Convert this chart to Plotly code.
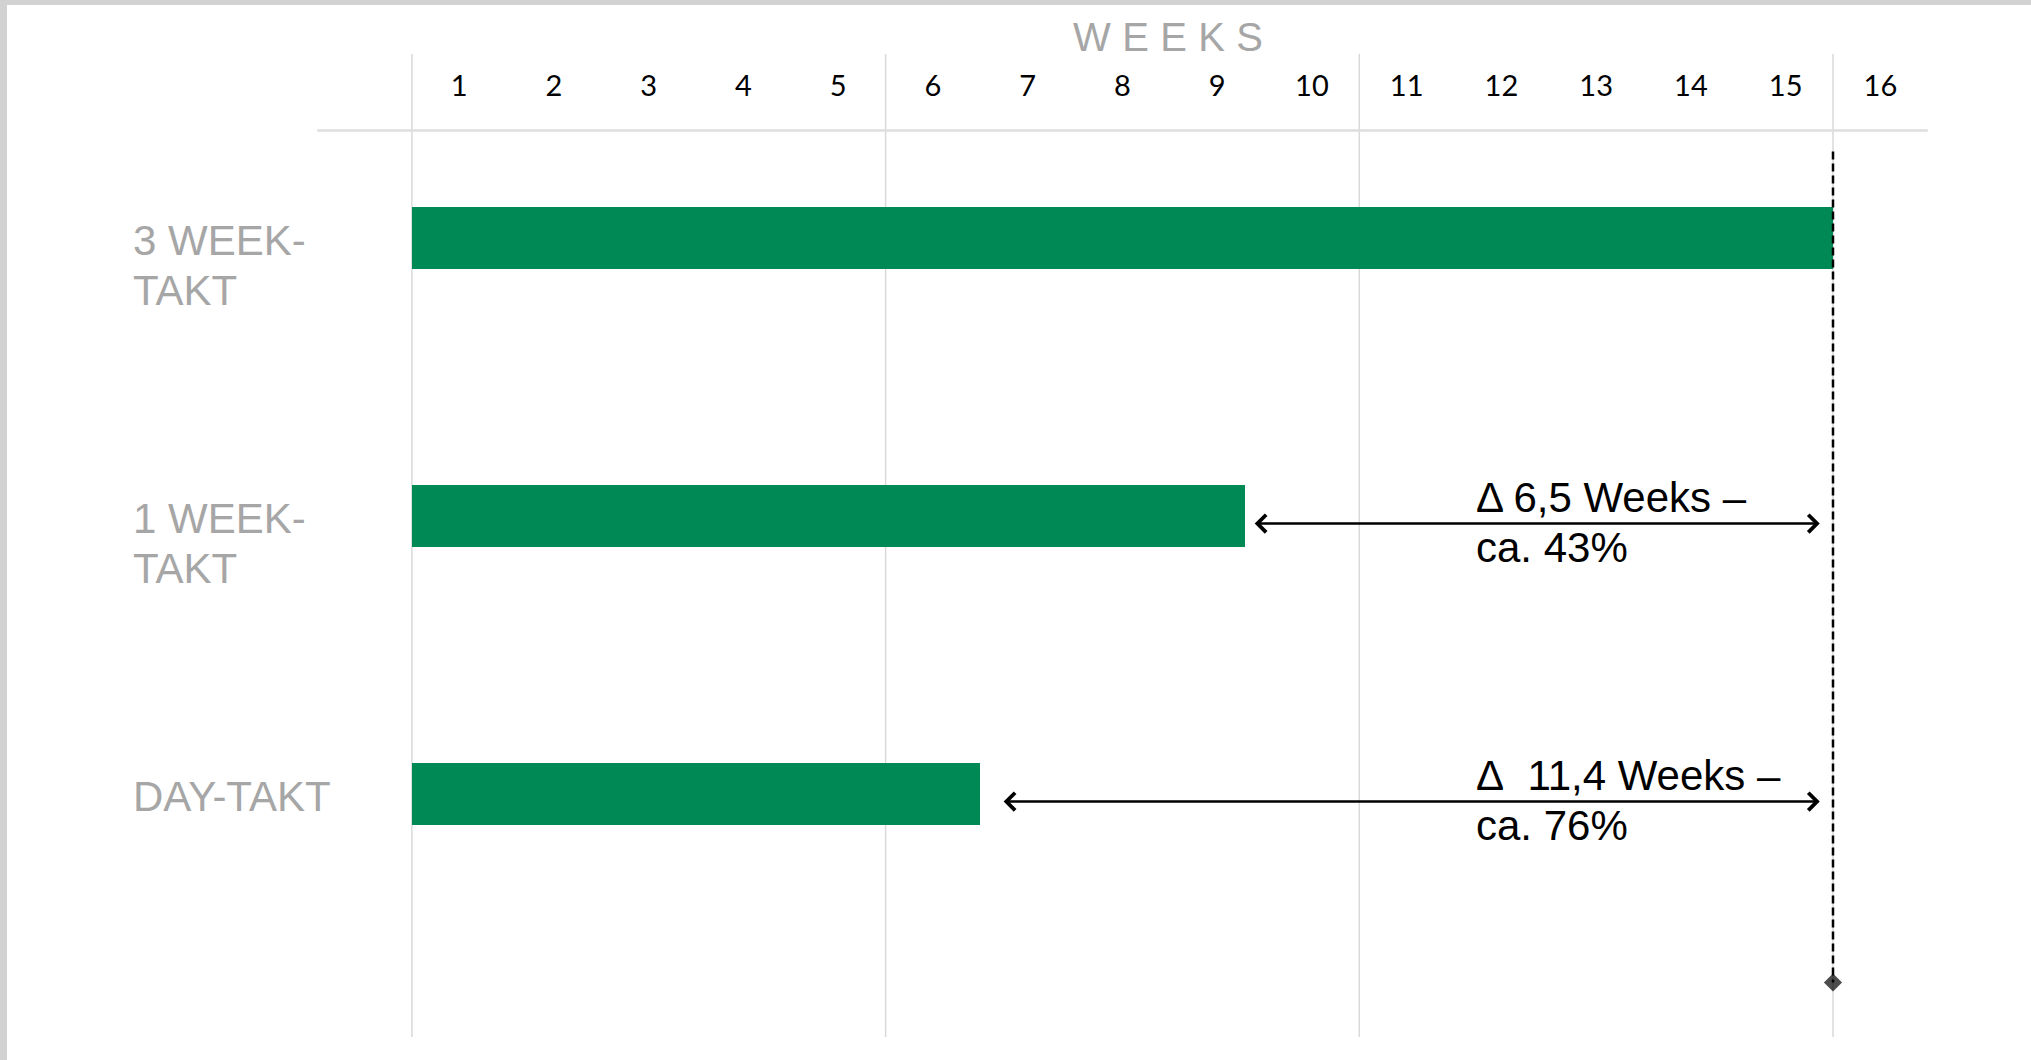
import plotly.graph_objects as go

# ---------------- data ----------------
categories = ["3 WEEK-TAKT", "1 WEEK-TAKT", "DAY-TAKT"]
category_label_lines = [["3 WEEK-", "TAKT"], ["1 WEEK-", "TAKT"], ["DAY-TAKT"]]
durations_weeks = [15.0, 8.79, 6.0]
milestone_week = 15
week_tick_labels = ["1", "2", "3", "4", "5", "6", "7", "8", "9", "10",
                    "11", "12", "13", "14", "15", "16"]
grid_weeks = [0, 5, 10, 15]
delta_texts = [None,
               ["Δ 6,5 Weeks –", "ca. 43%"],
               ["Δ\u00a0 11,4 Weeks –", "ca. 76%"]]
axis_title = "WEEKS"

# ---------------- geometry / style ----------------
W, H = 2031, 1060
X0_PX, WEEK_PX = 411.9, 94.74          # pixel of week 0, pixels per week
ROW0_PX, ROW_PX = 237.5, 278.0         # pixel of first row centre, pixels per row
GREEN = "#008954"
LABEL_GREY = "#A6A6A6"
GRID_GREY = "#D9D9D9"
SANS = "Liberation Sans, Arial, sans-serif"
TICK_FONT = "Lato, Carlito, Calibri, sans-serif"
ARROW_START_GAP = [0.0, 0.09, 0.23]    # gap between bar end and arrow start (weeks)
ARROW_END_GAP = 0.14


def k_of_px(py):
    return (py - ROW0_PX) / ROW_PX


def paper_y(py):
    return 1 - py / H


x_range = [-X0_PX / WEEK_PX, (W - X0_PX) / WEEK_PX]
y_range = [(H - ROW0_PX) / ROW_PX, -ROW0_PX / ROW_PX]
rows = list(range(len(categories)))

fig = go.Figure()

# bars
fig.add_trace(go.Bar(
    y=rows, x=durations_weeks, base=0, orientation="h",
    width=62 / ROW_PX, marker=dict(color=GREEN, line=dict(width=0)),
    hovertext=categories, showlegend=False,
))

# milestone dashed line with diamond
fig.add_trace(go.Scatter(
    x=[milestone_week, milestone_week],
    y=[k_of_px(151.6), k_of_px(982.5)],
    mode="lines+markers",
    line=dict(color="black", width=2.5, dash="8px,4px"),
    marker=dict(symbol="diamond", size=[0, 14], color="black",
                line=dict(width=0)),
    showlegend=False, hoverinfo="skip",
))

shapes = []
# grey textured frame (top & left)
shapes.append(dict(type="rect", xref="paper", yref="paper", x0=0, x1=7 / W, y0=0, y1=1,
                   fillcolor="#D2D2D2", line=dict(width=0), layer="below"))
shapes.append(dict(type="rect", xref="paper", yref="paper", x0=0, x1=1, y0=paper_y(5), y1=1,
                   fillcolor="#D2D2D2", line=dict(width=0), layer="below"))
# vertical grid lines
for gw in grid_weeks:
    shapes.append(dict(type="line", xref="x", yref="paper", x0=gw, x1=gw,
                       y0=paper_y(1037), y1=paper_y(54),
                       line=dict(color=GRID_GREY, width=1.5), layer="below"))
# horizontal separator below the week numbers
shapes.append(dict(type="line", xref="x", yref="paper", x0=-1, x1=16,
                   y0=paper_y(130.5), y1=paper_y(130.5),
                   line=dict(color="#DEDEDE", width=2.5), layer="below"))

annotations = []
# category labels
for k, lines in zip(rows, category_label_lines):
    for j, line in enumerate(lines):
        annotations.append(dict(
            xref="paper", x=131 / W, xanchor="left",
            yref="y", y=k, yanchor="middle", yshift=-(3 + 50 * j),
            text=line, showarrow=False,
            font=dict(family=SANS, size=42, color=LABEL_GREY)))

# delta arrows and texts
for k, dur, dtext in zip(rows, durations_weeks, delta_texts):
    if dtext is None:
        continue
    annotations.append(dict(
        xref="x", yref="y", axref="x", ayref="y",
        x=milestone_week - ARROW_END_GAP, y=k, ax=dur + ARROW_START_GAP[k], ay=k,
        text="", showarrow=True, arrowside="end+start",
        arrowhead=4, startarrowhead=4, arrowsize=1.35, startarrowsize=1.35,
        arrowwidth=2.5, arrowcolor="black", yshift=-8))
    for j, line in enumerate(dtext):
        annotations.append(dict(
            xref="x", x=11.21, xanchor="left",
            yref="y", y=k, yanchor="middle", yshift=18.5 - 50 * j,
            text=line, showarrow=False,
            font=dict(family=SANS, size=42, color="black")))

fig.update_layout(
    width=W, height=H, autosize=False,
    margin=dict(l=0, r=0, t=0, b=0, pad=0),
    paper_bgcolor="white", plot_bgcolor="white",
    showlegend=False,
    title=dict(text="\u2009\u200a".join(axis_title), x=1168 / W, xref="container", xanchor="center",
               y=paper_y(36.7), yref="container", yanchor="middle",
               font=dict(family=SANS, size=40, color=LABEL_GREY)),
    xaxis=dict(range=x_range, domain=[0, 1], side="top", anchor="free", position=paper_y(101.5),
               tickmode="array", tickvals=[i + 0.5 for i in range(len(week_tick_labels))],
               ticktext=week_tick_labels, ticks="", showgrid=False, zeroline=False,
               showline=False, tickfont=dict(family=TICK_FONT, size=29, color="black"),
               fixedrange=True),
    yaxis=dict(range=y_range, domain=[0, 1], showgrid=False, zeroline=False, showline=False,
               showticklabels=False, ticks="", fixedrange=True),
    shapes=shapes, annotations=annotations,
    bargap=0,
)

fig.write_html("out.html", config={"displayModeBar": False, "responsive": False},
               post_script="document.body.style.margin='0';document.body.style.overflow='hidden';")
